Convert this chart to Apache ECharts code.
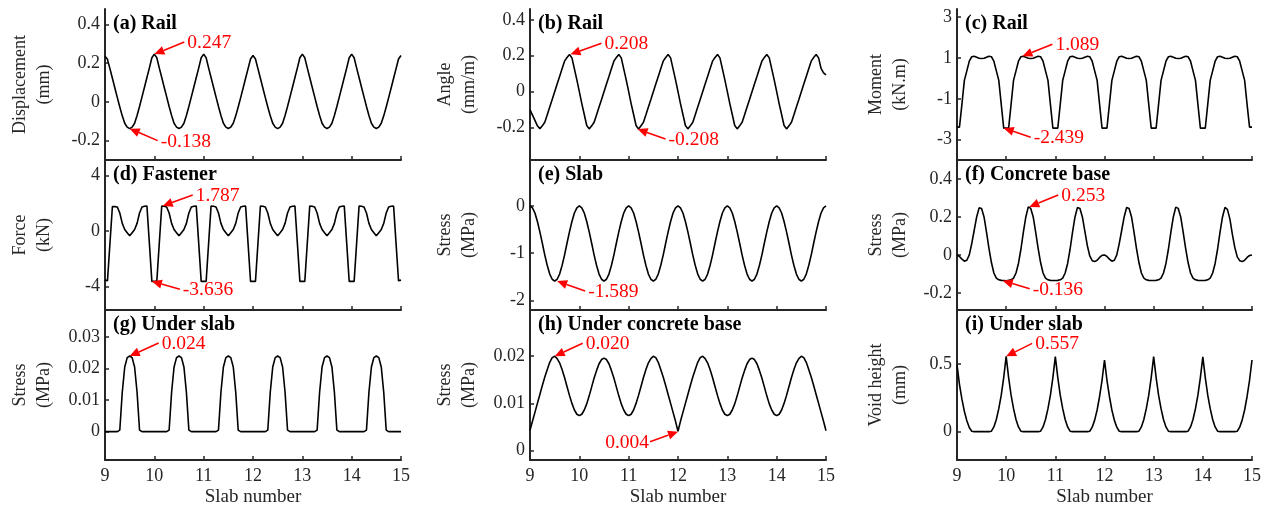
<!DOCTYPE html>
<html>
<head>
<meta charset="utf-8">
<script src="https://cdn.jsdelivr.net/npm/echarts@6/dist/echarts.min.js"></script>
<style>
  html, body { margin: 0; padding: 0; background: #fff; }
  #chart { width: 1272px; height: 512px; }
</style>
</head>
<body>
<div id="chart"></div>
<script>
// positions along the track (slab number)
const slabPos = [
  9, 9.05, 9.1, 9.15, 9.2, 9.25, 9.3, 9.35, 9.4, 9.45, 9.5, 9.55, 9.6, 9.65, 9.7, 9.75, 9.8, 9.85, 9.9, 9.95,
  10, 10.05, 10.1, 10.15, 10.2, 10.25, 10.3, 10.35, 10.4, 10.45, 10.5, 10.55, 10.6, 10.65, 10.7, 10.75, 10.8, 10.85, 10.9, 10.95,
  11, 11.05, 11.1, 11.15, 11.2, 11.25, 11.3, 11.35, 11.4, 11.45, 11.5, 11.55, 11.6, 11.65, 11.7, 11.75, 11.8, 11.85, 11.9, 11.95,
  12, 12.05, 12.1, 12.15, 12.2, 12.25, 12.3, 12.35, 12.4, 12.45, 12.5, 12.55, 12.6, 12.65, 12.7, 12.75, 12.8, 12.85, 12.9, 12.95,
  13, 13.05, 13.1, 13.15, 13.2, 13.25, 13.3, 13.35, 13.4, 13.45, 13.5, 13.55, 13.6, 13.65, 13.7, 13.75, 13.8, 13.85, 13.9, 13.95,
  14, 14.05, 14.1, 14.15, 14.2, 14.25, 14.3, 14.35, 14.4, 14.45, 14.5, 14.55, 14.6, 14.65, 14.7, 14.75, 14.8, 14.85, 14.9, 14.95,
  15
];

// (a) rail displacement, mm
const railDisp = [
  0.236, 0.22, 0.172, 0.122, 0.072, 0.022, -0.026, -0.072, -0.11, -0.13, -0.138, -0.13, -0.11, -0.07, -0.024, 0.026, 0.076, 0.126, 0.176, 0.228,
  0.247, 0.228, 0.176, 0.126, 0.076, 0.026, -0.024, -0.07, -0.11, -0.13, -0.137, -0.13, -0.11, -0.07, -0.024, 0.026, 0.076, 0.126, 0.176, 0.228,
  0.247, 0.228, 0.176, 0.126, 0.076, 0.026, -0.024, -0.07, -0.11, -0.13, -0.137, -0.13, -0.11, -0.072, -0.026, 0.022, 0.072, 0.122, 0.172, 0.222,
  0.24, 0.222, 0.172, 0.122, 0.072, 0.022, -0.026, -0.072, -0.11, -0.13, -0.138, -0.13, -0.11, -0.07, -0.024, 0.026, 0.076, 0.126, 0.176, 0.228,
  0.247, 0.228, 0.176, 0.126, 0.076, 0.026, -0.024, -0.07, -0.11, -0.13, -0.137, -0.13, -0.11, -0.07, -0.024, 0.026, 0.076, 0.126, 0.176, 0.228,
  0.247, 0.228, 0.176, 0.126, 0.076, 0.026, -0.024, -0.07, -0.11, -0.13, -0.137, -0.13, -0.11, -0.072, -0.026, 0.022, 0.072, 0.122, 0.172, 0.222,
  0.24
];

// (b) rail angle, mm/m
const railAngle = [
  -0.1, -0.13, -0.16, -0.19, -0.206, -0.19, -0.17, -0.128, -0.085, -0.043, 0, 0.043, 0.085, 0.128, 0.17, 0.19, 0.207, 0.188, 0.127, 0.066,
  0, -0.066, -0.127, -0.188, -0.207, -0.19, -0.17, -0.128, -0.085, -0.043, 0, 0.043, 0.085, 0.128, 0.17, 0.19, 0.207, 0.188, 0.127, 0.066,
  0, -0.066, -0.127, -0.188, -0.208, -0.19, -0.17, -0.128, -0.085, -0.043, 0, 0.043, 0.085, 0.128, 0.17, 0.19, 0.207, 0.188, 0.127, 0.066,
  0, -0.066, -0.127, -0.188, -0.207, -0.19, -0.17, -0.128, -0.085, -0.043, 0, 0.043, 0.085, 0.128, 0.17, 0.19, 0.207, 0.188, 0.127, 0.066,
  0, -0.066, -0.127, -0.188, -0.207, -0.19, -0.17, -0.128, -0.085, -0.043, 0, 0.043, 0.085, 0.128, 0.17, 0.19, 0.207, 0.188, 0.127, 0.066,
  0, -0.066, -0.127, -0.188, -0.207, -0.19, -0.17, -0.128, -0.085, -0.043, 0, 0.043, 0.085, 0.128, 0.17, 0.19, 0.207, 0.188, 0.13, 0.105,
  0.093
];

// (c) rail moment, kN.m
const railMoment = [
  -2.39, -2.39, -1.27, -0.1, 0.37, 0.84, 1.06, 1.085, 1.04, 0.99, 0.97, 0.99, 1.04, 1.085, 1.06, 0.84, 0.37, -0.1, -1.27, -2.439,
  -2.439, -2.439, -1.27, -0.1, 0.37, 0.84, 1.06, 1.089, 1.04, 0.99, 0.97, 0.99, 1.04, 1.085, 1.06, 0.84, 0.37, -0.1, -1.27, -2.439,
  -2.439, -2.439, -1.27, -0.1, 0.37, 0.84, 1.06, 1.085, 1.04, 0.99, 0.97, 0.99, 1.04, 1.085, 1.06, 0.84, 0.37, -0.1, -1.27, -2.439,
  -2.439, -2.439, -1.27, -0.1, 0.37, 0.84, 1.06, 1.085, 1.04, 0.99, 0.97, 0.99, 1.04, 1.085, 1.06, 0.84, 0.37, -0.1, -1.27, -2.439,
  -2.439, -2.439, -1.27, -0.1, 0.37, 0.84, 1.06, 1.085, 1.04, 0.99, 0.97, 0.99, 1.04, 1.085, 1.06, 0.84, 0.37, -0.1, -1.27, -2.439,
  -2.439, -2.439, -1.27, -0.1, 0.37, 0.84, 1.06, 1.085, 1.04, 0.99, 0.97, 0.99, 1.04, 1.085, 1.06, 0.84, 0.37, -0.1, -1.27, -2.39,
  -2.39
];

// (d) fastener force, kN
const fastenerForce = [
  -3.55, -3.6, -0.92, 1.75, 1.74, 1.72, 1.28, 0.54, 0.1, -0.13, -0.36, -0.13, 0.1, 0.54, 1.28, 1.72, 1.77, 1.78, -0.92, -3.636,
  -3.636, -3.636, -0.92, 1.787, 1.77, 1.72, 1.28, 0.54, 0.1, -0.13, -0.36, -0.13, 0.1, 0.54, 1.28, 1.72, 1.77, 1.78, -0.92, -3.636,
  -3.636, -3.636, -0.92, 1.78, 1.77, 1.72, 1.28, 0.54, 0.1, -0.13, -0.36, -0.13, 0.1, 0.54, 1.28, 1.72, 1.77, 1.78, -0.92, -3.636,
  -3.636, -3.636, -0.92, 1.78, 1.77, 1.72, 1.28, 0.54, 0.1, -0.13, -0.36, -0.13, 0.1, 0.54, 1.28, 1.72, 1.77, 1.78, -0.92, -3.636,
  -3.636, -3.636, -0.92, 1.78, 1.77, 1.72, 1.28, 0.54, 0.1, -0.13, -0.36, -0.13, 0.1, 0.54, 1.28, 1.72, 1.77, 1.78, -0.92, -3.636,
  -3.636, -3.636, -0.92, 1.78, 1.77, 1.72, 1.28, 0.54, 0.1, -0.13, -0.36, -0.13, 0.1, 0.54, 1.28, 1.72, 1.77, 1.78, -0.92, -3.6,
  -3.55
];

// (e) slab stress, MPa
const slabStress = [
  0, -0.04, -0.15, -0.33, -0.55, -0.79, -1.04, -1.26, -1.44, -1.55, -1.589, -1.55, -1.44, -1.26, -1.04, -0.79, -0.55, -0.33, -0.15, -0.04,
  0, -0.04, -0.15, -0.33, -0.55, -0.79, -1.04, -1.26, -1.44, -1.55, -1.589, -1.55, -1.44, -1.26, -1.04, -0.79, -0.55, -0.33, -0.15, -0.04,
  0, -0.04, -0.15, -0.33, -0.55, -0.79, -1.04, -1.26, -1.44, -1.55, -1.589, -1.55, -1.44, -1.26, -1.04, -0.79, -0.55, -0.33, -0.15, -0.04,
  0, -0.04, -0.15, -0.33, -0.55, -0.79, -1.04, -1.26, -1.44, -1.55, -1.589, -1.55, -1.44, -1.26, -1.04, -0.79, -0.55, -0.33, -0.15, -0.04,
  0, -0.04, -0.15, -0.33, -0.55, -0.79, -1.04, -1.26, -1.44, -1.55, -1.589, -1.55, -1.44, -1.26, -1.04, -0.79, -0.55, -0.33, -0.15, -0.04,
  0, -0.04, -0.15, -0.33, -0.55, -0.79, -1.04, -1.26, -1.44, -1.55, -1.589, -1.55, -1.44, -1.26, -1.04, -0.79, -0.55, -0.33, -0.15, -0.04,
  0
];

// (f) concrete base stress, MPa
const baseStress = [
  0, -0.008, -0.022, -0.033, -0.028, 0, 0.06, 0.13, 0.2, 0.248, 0.245, 0.2, 0.12, 0.035, -0.04, -0.095, -0.122, -0.131, -0.134, -0.135,
  -0.136, -0.134, -0.131, -0.122, -0.095, -0.045, 0.03, 0.12, 0.2, 0.253, 0.245, 0.2, 0.12, 0.035, -0.04, -0.095, -0.122, -0.131, -0.134, -0.135,
  -0.135, -0.134, -0.131, -0.122, -0.095, -0.045, 0.03, 0.12, 0.2, 0.25, 0.245, 0.2, 0.125, 0.05, -0.005, -0.03, -0.035, -0.028, -0.013, -0.002,
  0, -0.008, -0.022, -0.033, -0.028, 0, 0.06, 0.13, 0.2, 0.25, 0.245, 0.2, 0.12, 0.035, -0.04, -0.095, -0.122, -0.131, -0.134, -0.135,
  -0.135, -0.134, -0.131, -0.122, -0.095, -0.045, 0.03, 0.12, 0.2, 0.252, 0.245, 0.2, 0.12, 0.035, -0.04, -0.095, -0.122, -0.131, -0.134, -0.135,
  -0.135, -0.134, -0.131, -0.122, -0.095, -0.045, 0.03, 0.12, 0.2, 0.25, 0.24, 0.19, 0.11, 0.04, -0.01, -0.03, -0.035, -0.028, -0.013, -0.003,
  0
];

// (g) stress under slab, MPa
const underSlabStress = [
  0, 0, 0, 0, 0, 0, 0.0005, 0.0125, 0.0205, 0.0235, 0.024, 0.0235, 0.0205, 0.0125, 0.0005, 0, 0, 0, 0, 0,
  0, 0, 0, 0, 0, 0, 0.0005, 0.0125, 0.0205, 0.0235, 0.024, 0.0235, 0.0205, 0.0125, 0.0005, 0, 0, 0, 0, 0,
  0, 0, 0, 0, 0, 0, 0.0005, 0.0125, 0.0205, 0.0235, 0.024, 0.0235, 0.0205, 0.0125, 0.0005, 0, 0, 0, 0, 0,
  0, 0, 0, 0, 0, 0, 0.0005, 0.0125, 0.0205, 0.0235, 0.024, 0.0235, 0.0205, 0.0125, 0.0005, 0, 0, 0, 0, 0,
  0, 0, 0, 0, 0, 0, 0.0005, 0.0125, 0.0205, 0.0235, 0.024, 0.0235, 0.0205, 0.0125, 0.0005, 0, 0, 0, 0, 0,
  0, 0, 0, 0, 0, 0, 0.0005, 0.0125, 0.0205, 0.0235, 0.024, 0.0235, 0.0205, 0.0125, 0.0005, 0, 0, 0, 0, 0,
  0
];

// (h) stress under concrete base, MPa
const underBaseStress = [
  0.0043, 0.0062, 0.0081, 0.01, 0.0119, 0.0138, 0.0156, 0.0172, 0.0187, 0.0197, 0.02, 0.0195, 0.0186, 0.0172, 0.0155, 0.0136, 0.0117, 0.01, 0.0086, 0.0077,
  0.0074, 0.0077, 0.0086, 0.0099, 0.0116, 0.0135, 0.0154, 0.017, 0.0184, 0.0193, 0.0196, 0.0193, 0.0184, 0.017, 0.0154, 0.0135, 0.0116, 0.0099, 0.0086, 0.0077,
  0.0074, 0.0077, 0.0086, 0.01, 0.0117, 0.0136, 0.0155, 0.0172, 0.0186, 0.0195, 0.02, 0.0197, 0.0187, 0.0172, 0.0156, 0.0138, 0.0119, 0.01, 0.0081, 0.0062,
  0.0041, 0.0062, 0.0081, 0.01, 0.0119, 0.0138, 0.0156, 0.0172, 0.0187, 0.0197, 0.02, 0.0195, 0.0186, 0.0172, 0.0155, 0.0136, 0.0117, 0.01, 0.0086, 0.0077,
  0.0074, 0.0077, 0.0086, 0.0099, 0.0116, 0.0135, 0.0154, 0.017, 0.0184, 0.0193, 0.0196, 0.0193, 0.0184, 0.017, 0.0154, 0.0135, 0.0116, 0.0099, 0.0086, 0.0077,
  0.0074, 0.0077, 0.0086, 0.01, 0.0117, 0.0136, 0.0155, 0.0172, 0.0186, 0.0195, 0.02, 0.0197, 0.0187, 0.0172, 0.0156, 0.0138, 0.0119, 0.01, 0.0081, 0.0062,
  0.0042
];

// (i) void height under slab, mm
const voidHeight = [
  0.495, 0.35, 0.24, 0.15, 0.08, 0.03, 0.003, 0, 0, 0, 0, 0, 0, 0, 0.003, 0.035, 0.09, 0.17, 0.27, 0.4,
  0.557, 0.4, 0.27, 0.17, 0.09, 0.035, 0.003, 0, 0, 0, 0, 0, 0, 0, 0.003, 0.035, 0.09, 0.17, 0.27, 0.4,
  0.555, 0.4, 0.27, 0.17, 0.09, 0.035, 0.003, 0, 0, 0, 0, 0, 0, 0, 0.003, 0.033, 0.085, 0.16, 0.26, 0.38,
  0.53, 0.38, 0.26, 0.16, 0.085, 0.033, 0.003, 0, 0, 0, 0, 0, 0, 0, 0.003, 0.035, 0.09, 0.17, 0.27, 0.4,
  0.555, 0.4, 0.27, 0.17, 0.09, 0.035, 0.003, 0, 0, 0, 0, 0, 0, 0, 0.003, 0.035, 0.09, 0.17, 0.27, 0.4,
  0.553, 0.4, 0.27, 0.17, 0.09, 0.035, 0.003, 0, 0, 0, 0, 0, 0, 0, 0.003, 0.033, 0.085, 0.16, 0.26, 0.38,
  0.53
];

const panelSeries = [railDisp, railAngle, railMoment, fastenerForce, slabStress, baseStress, underSlabStress, underBaseStress, voidHeight];
const panelTitles = ['(a) Rail', '(b) Rail', '(c) Rail', '(d) Fastener', '(e) Slab', '(f) Concrete base', '(g) Under slab', '(h) Under concrete base', '(i) Under slab'];
const yNames = ['Displacement\n(mm)', 'Angle\n(mm/m)', 'Moment\n(kN.m)', 'Force\n(kN)', 'Stress\n(MPa)', 'Stress\n(MPa)', 'Stress\n(MPa)', 'Stress\n(MPa)', 'Void height\n(mm)'];
const yRanges = [[-0.3, 0.48], [-0.38, 0.46], [-4, 3.4], [-5.7, 5.1], [-2.2, 0.97], [-0.29, 0.5], [-0.009, 0.0386], [-0.002, 0.0298], [-0.21, 0.9]];
const yTicks = [[-0.2, 0, 0.2, 0.4], [-0.2, 0, 0.2, 0.4], [-3, -1, 1, 3], [-4, 0, 4], [-2, -1, 0], [-0.2, 0, 0.2, 0.4], [0, 0.01, 0.02, 0.03], [0, 0.01, 0.02], [0, 0.5]];
const xTicks = [9, 10, 11, 12, 13, 14, 15];

// labelled extremes: panel, position, value, text
const annotations = [
  [0, 10, 0.247, '0.247'], [0, 9.5, -0.138, '-0.138'],
  [1, 9.82, 0.208, '0.208'], [1, 11.18, -0.208, '-0.208'],
  [2, 10.33, 1.089, '1.089'], [2, 9.95, -2.439, '-2.439'],
  [3, 10.17, 1.787, '1.787'], [3, 9.95, -3.636, '-3.636'],
  [4, 9.55, -1.589, '-1.589'],
  [5, 10.47, 0.253, '0.253'], [5, 9.93, -0.136, '-0.136'],
  [6, 9.5, 0.024, '0.024'],
  [7, 9.5, 0.020, '0.020'], [7, 12, 0.004, '0.004'],
  [8, 10, 0.557, '0.557']
];

// layout (pixels)
const colLeft = [105, 530, 957];
const colWidth = [296, 296, 295];
const rowTop = [9, 160, 310];
const rowHeight = [151, 150, 150];
const nameGaps = [49, 49, 45];
const arrowOffsets = [[30, -12], [28, 12], [31, -11], [28, 10], [30, -12], [27, 9], [30, -11], [28, 8], [28, 10], [29, -12], [27, 8], [29, -13], [28, -13], [-28, 10], [26, -13]];

const FONT = '"Liberation Serif", "Times New Roman", serif';
const AXIS_COLOR = '#262626';

const grids = [], xAxes = [], yAxes = [], titles = [], series = [];
for (let p = 0; p < 9; p++) {
  const r = Math.floor(p / 3), c = p % 3;
  grids.push({ left: colLeft[c], top: rowTop[r], width: colWidth[c], height: rowHeight[r], containLabel: false, outerBoundsMode: 'none' });
  xAxes.push({
    type: 'value', gridIndex: p, min: 9, max: 15,
    axisLine: { show: true, onZero: false, lineStyle: { color: AXIS_COLOR, width: 2 } },
    axisTick: { show: true, inside: true, length: 4, customValues: xTicks, lineStyle: { color: AXIS_COLOR, width: 1.5 } },
    axisLabel: { show: r === 2, customValues: xTicks, margin: 7, fontSize: 18, fontFamily: FONT, color: AXIS_COLOR },
    splitLine: { show: false },
    name: r === 2 ? 'Slab number' : '',
    nameLocation: 'middle', nameGap: 28,
    nameTextStyle: { fontSize: 19, fontFamily: FONT, color: AXIS_COLOR }
  });
  yAxes.push({
    type: 'value', gridIndex: p, min: yRanges[p][0], max: yRanges[p][1],
    axisLine: { show: true, onZero: false, lineStyle: { color: AXIS_COLOR, width: 2 } },
    axisTick: { show: true, inside: true, length: 4, customValues: yTicks[p], lineStyle: { color: AXIS_COLOR, width: 1.5 } },
    axisLabel: { customValues: yTicks[p], margin: 5, fontSize: 18, fontFamily: FONT, color: AXIS_COLOR },
    splitLine: { show: false },
    name: yNames[p], nameLocation: 'middle', nameRotate: 90, nameGap: nameGaps[c],
    nameTextStyle: { fontSize: 18, lineHeight: 24, fontFamily: FONT, color: AXIS_COLOR, align: 'center' }
  });
  titles.push({
    text: panelTitles[p], left: colLeft[c] + 8, top: rowTop[r] + 5, padding: 0,
    textStyle: { fontSize: 20, fontWeight: 'bold', fontFamily: FONT, color: '#000' }
  });
  series.push({
    type: 'line', xAxisIndex: p, yAxisIndex: p,
    data: slabPos.map((x, i) => [x, panelSeries[p][i]]),
    showSymbol: false, symbol: 'none', silent: true,
    lineStyle: { color: '#000', width: 1.6 }
  });
}

const chart = echarts.init(document.getElementById('chart'));
chart.setOption({ animation: false, grid: grids, xAxis: xAxes, yAxis: yAxes, title: titles, series: series });

// red arrows with value labels
const graphics = [];
annotations.forEach(([p, x, y, text], k) => {
  const tip = chart.convertToPixel({ gridIndex: p }, [x, y]);
  const [dx, dy] = arrowOffsets[k];
  const tail = [tip[0] + dx, tip[1] + dy];
  const len = Math.hypot(dx, dy);
  const ux = -dx / len, uy = -dy / len;
  const headLen = 10, headHalf = 4.5;
  const base = [tip[0] - ux * headLen, tip[1] - uy * headLen];
  graphics.push({ type: 'line', z: 100, shape: { x1: tail[0], y1: tail[1], x2: base[0], y2: base[1] }, style: { stroke: '#ff0000', lineWidth: 1.6 } });
  graphics.push({ type: 'polygon', z: 100, shape: { points: [tip, [base[0] - uy * headHalf, base[1] + ux * headHalf], [base[0] + uy * headHalf, base[1] - ux * headHalf]] }, style: { fill: '#ff0000' } });
  graphics.push({
    type: 'text', z: 100, x: dx > 0 ? tail[0] + 3 : tail[0] - 1, y: tail[1] + 1,
    style: { text: text, fill: '#ff0000', fontSize: 19.5, fontFamily: FONT, align: dx > 0 ? 'left' : 'right', verticalAlign: 'middle' }
  });
});
chart.setOption({ graphic: graphics });
</script>
</body>
</html>
